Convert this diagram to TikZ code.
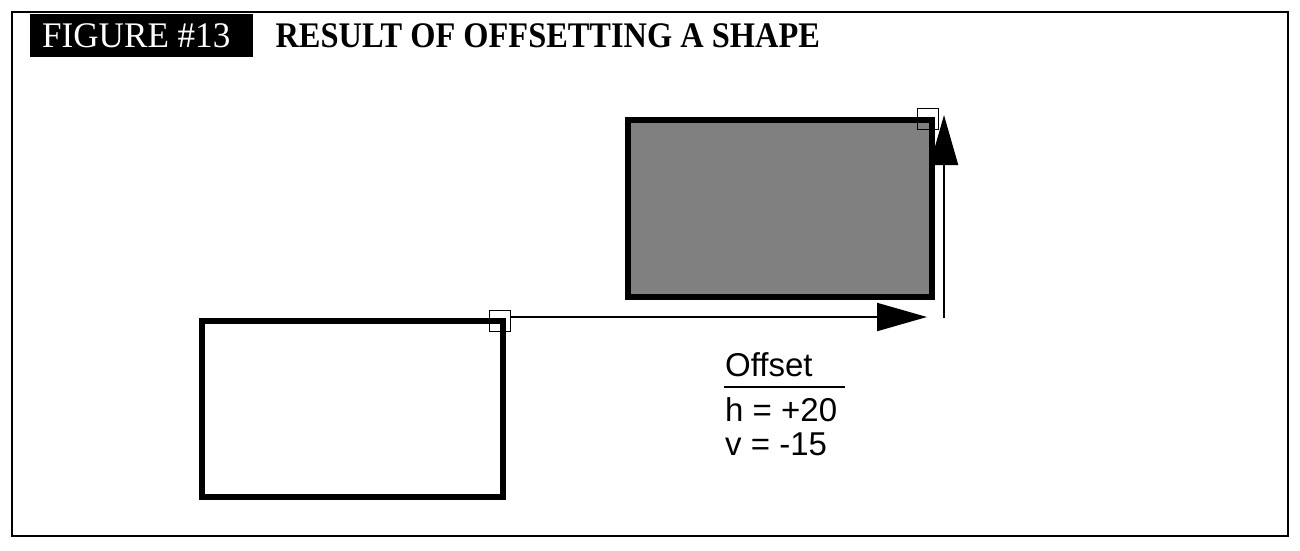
\documentclass[tikz,border=0pt]{standalone}
\usepackage{fontspec}
\setmainfont{Liberation Serif}
\newfontfamily\tagfont[FakeStretch=0.975]{Liberation Serif}
\newfontfamily\titlefont[FakeStretch=0.9]{Liberation Serif}
\newfontfamily\labelfont{Liberation Sans}
\usetikzlibrary{positioning,calc,arrows.meta}
\definecolor{shapegray}{HTML}{808080}

\begin{document}
\begin{tikzpicture}[x=1pt,y=-1pt,
  shapebox/.style={draw=black,line width=6pt,inner sep=0pt,outer sep=0pt},
  refmark/.style={draw=black,line width=1.5pt,minimum size=21pt,inner sep=0pt},
  movearrow/.style={line width=2pt,-{Triangle[length=50pt,width=28pt]}},
  offtext/.style={anchor=base west,inner sep=0pt,font=\labelfont\fontsize{33}{34}\selectfont}]
  \useasboundingbox (0,0) rectangle (1300,550);
  \draw[line width=1.2pt] (12,12) rectangle (1288,536);
  % heading
  \node[fill=black,minimum width=223pt,minimum height=43pt,inner sep=0pt,anchor=north west] (tag) at (30,14) {};
  \node[anchor=west,inner sep=0pt,text=white,font=\tagfont\fontsize{36}{38}\selectfont] (tagtext)
    at ($(tag.west)+(12,0)$) {FIGURE \#13};
  \node[anchor=west,inner sep=0pt,font=\titlefont\bfseries\fontsize{36}{38}\selectfont] (title)
    at ($(tag.east)+(22,0)$) {RESULT OF OFFSETTING A SHAPE};
  % shape before and after the offset
  \node[shapebox,minimum width=301pt,minimum height=176pt,anchor=north east] (orig) at (503,321) {};
  \node[shapebox,fill=shapegray,minimum width=304pt,minimum height=177pt,anchor=north east] (moved) at (932,120) {};
  \node[refmark] (origmark) at ($(orig.north east)+(-3,0)$) {};
  \node[refmark] (movedmark) at ($(moved.north east)+(-4,-1)$) {};
  \coordinate (hend) at (927,317);
  \coordinate (vbase) at (944,318);
  \coordinate (vtip) at (944,115);
  \draw[movearrow] (origmark.east |- hend) -- (hend);
  \draw[movearrow] (vbase) -- (vtip);
  % offset values
  \node[offtext] (offname) at (725,376) {Offset};
  \draw[line width=2pt] ($(offname.base west)+(-1,11)$) -- ++(121,0);
  \node[offtext] (hval) at (725,421) {h = +20};
  \node[offtext] (vval) at (725,455) {v = -15};
\end{tikzpicture}
\end{document}
